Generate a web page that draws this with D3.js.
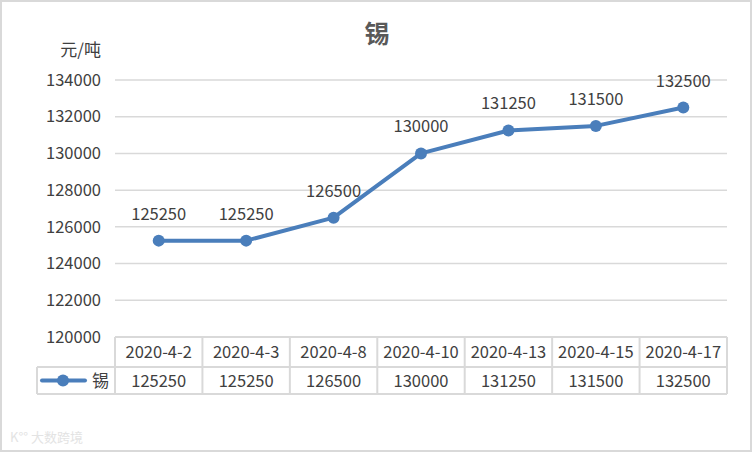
<!DOCTYPE html>
<html><head><meta charset="utf-8">
<script src="https://cdn.jsdelivr.net/npm/d3@7"></script>
<style>body{margin:0;background:#fff;}svg{display:block;}</style>
</head><body><svg id="c" width="752" height="452"></svg>
<script>
const categories = ["2020-4-2","2020-4-3","2020-4-8","2020-4-10","2020-4-13","2020-4-15","2020-4-17"];
const values = [125250,125250,126500,130000,131250,131500,132500];
const yTicks = [120000,122000,124000,126000,128000,130000,132000,134000];
const seriesName = "锡";
const title = "锡";
const unit = "元/吨";

(function(){
const svg = d3.select("#c");
const font = "'Microsoft YaHei','Noto Sans CJK SC','DejaVu Sans',sans-serif";
const textColor = "#404040";
const lineColor = "#4a7ebb";
const gridColor = "#d9d9d9";
const fs = 16.5;

svg.append("rect").attr("x",1).attr("y",1).attr("width",750).attr("height",450)
  .attr("fill","#fff").attr("stroke","#d9d9d9").attr("stroke-width",2);

const pL = 115, pR = 727, pT = 80, pB = 337;
const x = d3.scaleBand().domain(categories).range([pL,pR]);
const y = d3.scaleLinear().domain([120000,134000]).range([pB,pT]);

svg.append("text").attr("x",377).attr("y",43).attr("text-anchor","middle")
  .attr("font-family",font).attr("font-size",25).attr("font-weight","bold").attr("fill","#595959").text(title);

svg.append("text").attr("x",101).attr("y",56).attr("text-anchor","end")
  .attr("font-family",font).attr("font-size",17).attr("fill",textColor).text(unit);

svg.append("g").selectAll("line").data(yTicks.filter(d=>d>120000)).join("line")
  .attr("x1",pL).attr("x2",pR).attr("y1",d=>y(d)).attr("y2",d=>y(d))
  .attr("stroke",gridColor).attr("stroke-width",1.5);

const yAxis = d3.axisLeft(y).tickValues(yTicks).tickSize(0).tickPadding(14).tickFormat(d3.format("d"));
const gy = svg.append("g").attr("transform",`translate(${pL},0)`).call(yAxis);
gy.select(".domain").remove();
gy.selectAll("text").attr("font-family",font).attr("font-size",fs).attr("fill",textColor);

const line = d3.line().x((d,i)=>x(categories[i])+x.bandwidth()/2).y(d=>y(d));
svg.append("path").datum(values).attr("d",line).attr("fill","none")
  .attr("stroke",lineColor).attr("stroke-width",4).attr("stroke-linejoin","round");
svg.append("g").selectAll("circle").data(values).join("circle")
  .attr("cx",(d,i)=>x(categories[i])+x.bandwidth()/2).attr("cy",d=>y(d)).attr("r",6).attr("fill",lineColor);
svg.append("g").selectAll("text").data(values).join("text")
  .attr("x",(d,i)=>x(categories[i])+x.bandwidth()/2).attr("y",d=>y(d)-21)
  .attr("text-anchor","middle").attr("font-family",font).attr("font-size",fs).attr("fill",textColor).text(d=>d);

const tLeft = 37, r1 = pB, r2 = 367, r3 = 394;
const tbl = svg.append("g").attr("stroke",gridColor).attr("stroke-width",2).attr("fill","none");
tbl.append("line").attr("x1",pL).attr("x2",pR).attr("y1",r1).attr("y2",r1);
tbl.append("line").attr("x1",tLeft).attr("x2",pR).attr("y1",r2).attr("y2",r2);
tbl.append("line").attr("x1",tLeft).attr("x2",pR).attr("y1",r3).attr("y2",r3);
tbl.append("line").attr("x1",tLeft).attr("x2",tLeft).attr("y1",r2).attr("y2",r3);
tbl.selectAll(".v").data(categories.map(c=>x(c)).concat([pR])).join("line")
  .attr("x1",d=>d).attr("x2",d=>d).attr("y1",r1).attr("y2",r3);

svg.append("g").selectAll("text").data(categories).join("text")
  .attr("x",d=>x(d)+x.bandwidth()/2).attr("y",(r1+r2)/2+6).attr("text-anchor","middle")
  .attr("font-family",font).attr("font-size",fs).attr("fill",textColor).text(d=>d);
svg.append("g").selectAll("text").data(values).join("text")
  .attr("x",(d,i)=>x(categories[i])+x.bandwidth()/2).attr("y",(r2+r3)/2+6).attr("text-anchor","middle")
  .attr("font-family",font).attr("font-size",fs).attr("fill",textColor).text(d=>d);

svg.append("line").attr("x1",42).attr("x2",85).attr("y1",(r2+r3)/2).attr("y2",(r2+r3)/2)
  .attr("stroke",lineColor).attr("stroke-width",4).attr("stroke-linecap","round");
svg.append("circle").attr("cx",63).attr("cy",(r2+r3)/2).attr("r",6).attr("fill",lineColor);
svg.append("text").attr("x",92).attr("y",(r2+r3)/2+6).attr("font-family",font).attr("font-size",17)
  .attr("fill",textColor).text(seriesName);

svg.append("text").attr("x",10).attr("y",442).attr("font-family",font).attr("font-size",13)
  .attr("fill","#e3e3e3").text("K°° 大数跨境");
})();
</script></body></html>
